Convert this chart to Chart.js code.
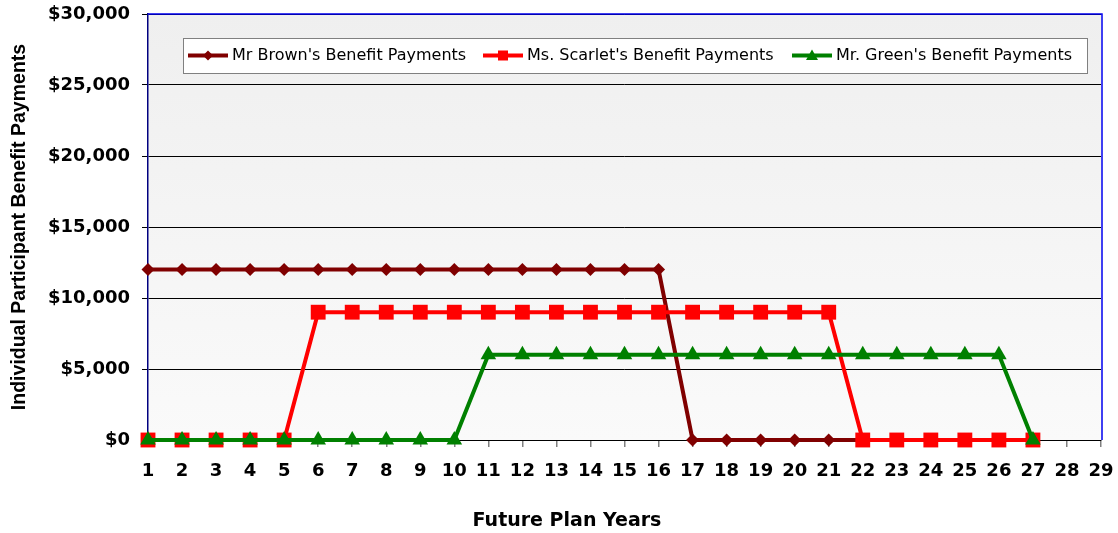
<!DOCTYPE html>
<html>
<head>
<meta charset="utf-8">
<script src="https://cdn.jsdelivr.net/npm/chart.js@4/dist/chart.umd.min.js"></script>
<style>
  html, body { margin: 0; padding: 0; background: #ffffff; }
  #wrap { width: 1118px; height: 533px; position: relative; }
</style>
</head>
<body>
<div id="wrap"><canvas id="benefitChart"></canvas></div>
<script>
// --- chart data ---
const planYears = ['1', '2', '3', '4', '5', '6', '7', '8', '9', '10', '11', '12', '13', '14', '15',
                   '16', '17', '18', '19', '20', '21', '22', '23', '24', '25', '26', '27', '28', '29'];

const brownPayments = [12000, 12000, 12000, 12000, 12000, 12000, 12000, 12000, 12000, 12000,
                       12000, 12000, 12000, 12000, 12000, 12000, 0, 0, 0, 0,
                       0, 0, 0, 0, 0, 0, 0, null, null];

const scarletPayments = [0, 0, 0, 0, 0, 9000, 9000, 9000, 9000, 9000,
                         9000, 9000, 9000, 9000, 9000, 9000, 9000, 9000, 9000, 9000,
                         9000, 0, 0, 0, 0, 0, 0, null, null];

const greenPayments = [0, 0, 0, 0, 0, 0, 0, 0, 0, 0,
                       6000, 6000, 6000, 6000, 6000, 6000, 6000, 6000, 6000, 6000,
                       6000, 6000, 6000, 6000, 6000, 6000, 0, null, null];

const seriesNames = ["Mr Brown's Benefit Payments", "Ms. Scarlet's Benefit Payments", "Mr. Green's Benefit Payments"];
const yTicks = [0, 5000, 10000, 15000, 20000, 25000, 30000];

const BROWN = '#800000';
const RED = '#FF0000';
const GREEN = '#008000';

// small marker drawer used by the in-plot legend
function drawMarker(ctx, style, x, y, r, color) {
    ctx.save();
    ctx.fillStyle = color;
    ctx.beginPath();
    if (style === 'rectRot') {
        ctx.moveTo(x, y - r); ctx.lineTo(x + r, y); ctx.lineTo(x, y + r); ctx.lineTo(x - r, y);
    } else if (style === 'rect') {
        ctx.rect(x - r, y - r, 2 * r, 2 * r);
    } else {
        ctx.moveTo(x, y - r); ctx.lineTo(x + r, y + r * 0.75); ctx.lineTo(x - r, y + r * 0.75);
    }
    ctx.closePath();
    ctx.fill();
    ctx.restore();
}

const plotDecor = {
    id: 'plotDecor',
    beforeDraw(chart) {
        const { ctx, chartArea: a } = chart;
        const g = ctx.createLinearGradient(0, a.top, 0, a.bottom);
        g.addColorStop(0, '#efefef');
        g.addColorStop(1, '#fafafa');
        ctx.save();
        ctx.fillStyle = g;
        ctx.fillRect(a.left, a.top, a.right - a.left, a.bottom - a.top);
        ctx.restore();
    },
    afterDraw(chart) {
        const { ctx, chartArea: a } = chart;
        ctx.save();
        // top + right frame
        ctx.strokeStyle = '#0000EE';
        ctx.lineWidth = 1.5;
        ctx.beginPath();
        ctx.moveTo(a.left, a.top);
        ctx.lineTo(a.right + 1, a.top);
        ctx.lineTo(a.right + 1, a.bottom);
        ctx.stroke();

        // legend box inside the plot
        ctx.fillStyle = '#ffffff';
        ctx.fillRect(183, 38, 904, 35);
        ctx.strokeStyle = '#808080';
        ctx.lineWidth = 1;
        ctx.strokeRect(183.5, 38.5, 904, 35);

        const items = [
            { x: 188, color: BROWN, style: 'rectRot', r: 5 },
            { x: 483, color: RED, style: 'rect', r: 5 },
            { x: 792, color: GREEN, style: 'triangle', r: 6 }
        ];
        ctx.font = '16px "DejaVu Sans"';
        ctx.textBaseline = 'middle';
        ctx.textAlign = 'left';
        items.forEach((it, i) => {
            const y = 55.5;
            ctx.strokeStyle = it.color;
            ctx.lineWidth = 4;
            ctx.beginPath();
            ctx.moveTo(it.x, y);
            ctx.lineTo(it.x + 40, y);
            ctx.stroke();
            drawMarker(ctx, it.style, it.x + 20, y, it.r, it.color);
            ctx.fillStyle = '#000000';
            ctx.fillText(seriesNames[i], it.x + 44, y);
        });

        // x axis title
        ctx.font = 'bold 19px "DejaVu Sans"';
        ctx.textAlign = 'center';
        ctx.fillStyle = '#000000';
        ctx.fillText('Future Plan Years', 567, 521);
        ctx.restore();
    }
};

new Chart(document.getElementById('benefitChart'), {
    type: 'line',
    data: {
        labels: planYears,
        datasets: [
            {
                label: seriesNames[0],
                data: brownPayments,
                borderColor: BROWN,
                backgroundColor: BROWN,
                borderWidth: 4,
                pointStyle: 'rectRot',
                pointRadius: 6.5,
                pointBorderWidth: 0,
                tension: 0,
                clip: false,
                order: 2
            },
            {
                label: seriesNames[1],
                data: scarletPayments,
                borderColor: RED,
                backgroundColor: RED,
                borderWidth: 4,
                pointStyle: 'rect',
                pointRadius: 10.5,
                pointBorderWidth: 0,
                tension: 0,
                clip: false,
                order: 1
            },
            {
                label: seriesNames[2],
                data: greenPayments,
                borderColor: GREEN,
                backgroundColor: GREEN,
                borderWidth: 4,
                pointStyle: 'triangle',
                pointRadius: 9,
                pointBorderWidth: 0,
                tension: 0,
                clip: false,
                order: 0
            }
        ]
    },
    options: {
        responsive: true,
        maintainAspectRatio: false,
        animation: false,
        layout: { padding: { left: 0, top: 14, right: 17, bottom: 0 } },
        plugins: {
            legend: { display: false },
            tooltip: { enabled: false }
        },
        scales: {
            x: {
                offset: false,
                grid: {
                    drawOnChartArea: false,
                    drawTicks: true,
                    tickLength: 7,
                    color: '#808080',
                    lineWidth: 1.5
                },
                border: { display: true, color: '#000000', width: 1 },
                ticks: {
                    color: '#000000',
                    font: { family: 'DejaVu Sans', size: 18, weight: 'bold' },
                    padding: 14,
                    maxRotation: 0,
                    autoSkip: false
                },
                afterFit(scale) {
                    scale.height = 93;
                    scale.paddingLeft = 0;
                    scale.paddingRight = 0;
                }
            },
            y: {
                min: 0,
                max: 30000,
                afterBuildTicks(scale) { scale.ticks = yTicks.map(v => ({ value: v })); },
                grid: {
                    color: '#000000',
                    lineWidth: 1,
                    tickLength: 6
                },
                border: { display: true, color: '#000080', width: 1.5 },
                ticks: {
                    color: '#000000',
                    font: { family: 'DejaVu Sans', size: 18, weight: 'bold' },
                    padding: 12,
                    callback: v => '$' + Number(v).toLocaleString('en-US')
                },
                title: {
                    display: true,
                    text: 'Individual Participant Benefit Payments',
                    color: '#000000',
                    font: { family: 'Liberation Sans', size: 19.5, weight: 'bold' },
                    padding: { top: 8, bottom: 0 }
                },
                afterFit(scale) {
                    scale.width = 148;
                    scale.paddingTop = 0;
                    scale.paddingBottom = 0;
                }
            }
        }
    },
    plugins: [plotDecor]
});
</script>
</body>
</html>
